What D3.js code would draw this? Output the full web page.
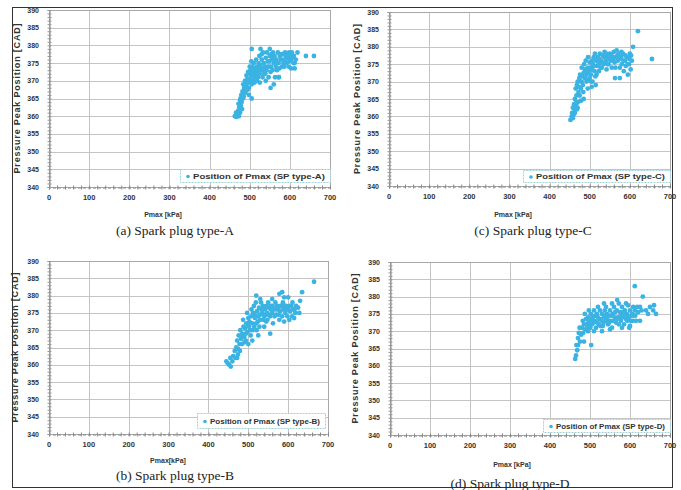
<!DOCTYPE html>
<html>
<head>
<meta charset="utf-8">
<script src="https://cdn.jsdelivr.net/npm/d3@7"></script>
<style>
  body { margin: 0; background: #fff; }
  svg { display: block; }
</style>
</head>
<body>
<svg id="chart"></svg>
<script>
// Pmax [kPa], peak position [CAD]
const dataA = [[463,360],[467,359.8],[470,360.3],[473,360],[466,361],[471,361.5],[476,361],[474,362.5],[478,363],[472,363.5],[480,364],[476,364.5],[483,365],[479,366],[485,365.5],[488,366.5],[482,367],[486,368],[490,367],
  [492,368.5],[495,367.5],[490,369],[497,369.5],[494,370.5],[500,370],[498,368],[503,371],[500,372],[505,369],[507,371.5],[502,373],[510,372],[508,370],[512,373.5],[506,374],[515,372.5],[513,371],[518,374],[510,375],[516,376],[520,373],[505,365],[498,366],
  [522,375],[525,372],[527,374.5],[524,377],[530,376],[528,373],[532,371],[535,375],[533,378],[538,374],[540,376.5],[536,372],[542,373],[545,375.5],[543,378],[548,374],[550,377],[547,371],[552,372.5],[555,376],[553,374],[558,378],[557,373],[560,375],[562,377],[565,374],[563,371],[567,376],[570,378],[568,373],[572,375],[575,377],[573,371],[578,376],[580,374],[582,377.5],[585,376],[588,378],[586,374],[590,377],[592,375],[595,376.5],[598,378],[597,374],[600,377],[603,376],[605,378],[608,376.5],[610,377],[612,375],[615,376],
  [603,373.5],[612,373.5],[619,378],[640,377],[660,377],[505,379],[527,379],[550,379],[530,377.5],[571,371],[552,368],[560,369],[540,370],[525,369.5],[518,370],
  [484,369],[488,370],[492,371.5],[496,372.5],[500,374],[504,375.5],[508,372.5],[512,369.5],[517,371.5],[521,371],[526,374],[531,373.5],[535,373],[539,372],[544,374],[549,375.5],[554,377.5],[559,376.5],[564,375.5],[569,375],[574,373.5],[579,377.5],[584,375],[589,375.5],[594,377],[599,375.5],[604,377],[609,375],[477,365],[481,362]];

const dataB = [[445,361],[448,360.5],[452,360],[456,359.5],[460,361],[455,362],[462,362.5],[468,362],[472,362],[466,364],[470,365],[475,364.5],[472,367],[478,366],[476,368.5],[482,367.5],[480,370],[485,369],[484,366],[488,371],[490,368],[492,370.5],[487,373],[495,372],[494,367],[498,369.5],[500,373.5],[502,371],[497,375],[505,370],[507,374],[510,372],[508,376],[512,375],[515,371],[517,373.5],[514,377],[520,372],[522,375.5],[519,378],[525,374],[527,376.5],[530,373],[532,378],[528,371],[535,375],[537,377],[540,374],[542,376],[545,372.5],[547,375],[550,378],[548,373],[552,376.5],[555,374],[557,377],[560,375],[562,372],[565,376],[568,378],[570,374.5],[572,377],[575,376],[578,373],[580,375.5],[583,377],[585,374],[588,376],[590,372.5],[593,375],[595,377],[598,374],[600,376],[603,373],[605,375.5],[608,377],[610,374],[612,376],[615,373.5],[618,375],[620,377],[625,376.5],[630,378.5],[635,381],[665,384],[578,380.5],[585,381],[590,379.5],[555,369],[540,371],[525,368.5],[510,367],[500,366],[530,379],[520,380],[560,379],[600,379.5],[628,375],
  [486,368],[490,366.5],[494,369],[499,371.5],[503,372.5],[506,368.5],[511,370],[516,374.5],[521,370],[524,372.5],[529,374.5],[533,376],[538,373],[543,374.5],[546,377],[551,374.5],[556,376],[561,377],[566,374],[571,376],[576,374.5],[581,377],[587,378],[592,377],[597,376],[604,377],[611,378],[616,376],[479,364],[474,363]];

const dataC = [[452,359],[455,360],[458,359.5],[456,361],[460,360.5],[462,362],[458,362.5],[465,363],[461,363.5],[468,362],[463,365],[467,366],[470,364],[465,368],[472,367],[468,369],[475,366],[470,370],[478,368],[474,371],[480,370],[476,372],[483,369],[485,372.5],[480,374],[488,371],[490,373],[486,375],[492,370],[495,374],[490,376],[498,372.5],[500,375.5],[496,377],[502,374],[505,376],[503,372],[508,375],[510,377],[507,370],[512,373],[515,376],[513,378],[518,374.5],[520,377],[517,372],[522,375],[525,378],[523,373],[528,376],[530,374],[532,377.5],[535,375],[537,378.5],[540,376],[542,373.5],[545,377],[547,375],[550,378],[552,376],[555,374],[557,377],[560,378.5],[562,375.5],[565,377],[567,379],[570,376],[572,378],[575,374],[578,377],[580,375],[583,378],[585,373],[588,376],[590,374.5],[593,377],[595,372],[598,375],[600,378],[602,373.5],[605,376],[608,380],[603,377.5],[563,371],[575,371],[620,384.5],[655,376.5],[495,368],[505,368.5],[515,369],[485,365],[500,371],[478,364.5],[470,362.5],
  [473,368.5],[477,370],[481,371.5],[484,367],[488,373.5],[492,372],[496,370.5],[499,373],[503,370],[506,373.5],[511,374.5],[514,371.5],[519,376],[524,376.5],[527,374],[531,375.5],[536,377],[541,378],[544,375],[549,376.5],[554,377.5],[559,376],[564,374],[569,377.5],[574,376.5],[579,378.5],[584,376],[589,377.5],[594,375],[599,376.5],[463,361],[467,364]];

const dataD = [[463,362],[465,363],[468,364.5],[466,366],[470,368],[472,369.5],[475,367],[478,369],[474,371],[480,371],[483,369.5],[485,372],[488,370.5],[490,373.5],[487,375],[492,372],[495,374],[498,371.5],[500,373],[497,376],[502,375],[505,372],[507,374],[510,376],[512,373],[515,371],[517,375],[520,374],[522,372],[525,376],[527,373.5],[530,375],[532,371.5],[535,374],[537,376],[540,373],[542,375],[545,372],[547,374.5],[550,376],[552,373],[555,371],[557,375],[560,377],[562,374],[565,372.5],[567,376],[570,374],[572,372],[575,375.5],[577,373],[580,377],[582,374],[585,372],[587,376],[590,373.5],[592,375],[595,377.5],[597,374],[600,376],[602,373],[605,375],[608,377],[610,374.5],[612,376],[615,373],[620,375.5],[625,377],[632,380],[612,383],[650,377],[658,376],[665,375],[660,377.5],[568,379],[520,377],[535,378],[503,366],[598,371],[510,370],[530,370],[550,370.5],[580,371],[495,370],[485,367],[482,373],[540,377],[555,378],[572,378],[590,378],[600,371.5],[640,376],[625,373],
  [493,371],[496,372.5],[501,371],[504,373.5],[509,372.5],[513,374.5],[518,372.5],[523,373.5],[526,371.5],[529,373],[534,372.5],[538,374.5],[543,373.5],[548,372.5],[553,374.5],[558,373],[563,375.5],[568,373.5],[573,374],[578,374.5],[583,375.5],[588,374.5],[593,373],[603,374.5],[607,373],[613,374.5],[618,377],[629,376],[645,375],[470,366]];

const xTicks = [0, 100, 200, 300, 400, 500, 600, 700];
const yTicks = [340, 345, 350, 355, 360, 365, 370, 375, 380, 385, 390];
const captions = ["(a) Spark plug type-A", "(b) Spark plug type-B", "(c) Spark plug type-C", "(d) Spark plug type-D"];
const legendNames = ["Position of Pmax (SP type-A)", "Position of Pmax (SP type-B)", "Position of Pmax (SP type-C)", "Position of Pmax (SP type-D)"];
const xLabels = ["Pmax [kPa]", "Pmax[kPa]", "Pmax [kPa]", "Pmax [kPa]"];
const yLabel = "Pressure Peak Position [CAD]";

const W = 681, H = 490;
const dot = "#3ab3e3";

const svg = d3.select("#chart").attr("width", W).attr("height", H);

// outer frame of the figure
svg.append("rect").attr("x", 12.5).attr("y", 7.5).attr("width", 660).attr("height", 480)
  .attr("fill", "none").attr("stroke", "#333");

// layout for each panel
const panels = [
  { data: dataA, i: 0, l: 49, r: 330, t: 10, b: 187, capX: 175, capY: 235, xlX: 163, xlY: 217, ylX: 20, leg: [180, 169, 150, 13] },
  { data: dataB, i: 1, l: 49, r: 328, t: 261, b: 434, capX: 175, capY: 480, xlX: 168, xlY: 463, ylX: 18, leg: [197, 413, 128, 15] },
  { data: dataC, i: 2, l: 389, r: 670, t: 12, b: 186, capX: 533, capY: 235, xlX: 513, xlY: 217, ylX: 360, leg: [523, 170, 147, 12] },
  { data: dataD, i: 3, l: 390, r: 670, t: 262, b: 435, capX: 510, capY: 488, xlX: 512, xlY: 467, ylX: 358, leg: [543, 419, 127, 13] }
];

panels.forEach(p => {
  const g = svg.append("g");
  const x = d3.scaleLinear().domain([0, 700]).range([p.l, p.r]);
  const y = d3.scaleLinear().domain([340, 390]).range([p.b, p.t]);

  // grid
  g.append("g").selectAll("line").data(xTicks.slice(1)).join("line")
    .attr("x1", d => Math.round(x(d)) + 0.5).attr("x2", d => Math.round(x(d)) + 0.5)
    .attr("y1", p.t).attr("y2", p.b).attr("stroke", "#c4c4c4");
  g.append("g").selectAll("line").data(yTicks.slice(1)).join("line")
    .attr("y1", d => Math.round(y(d)) + 0.5).attr("y2", d => Math.round(y(d)) + 0.5)
    .attr("x1", p.l).attr("x2", p.r).attr("stroke", "#c4c4c4");

  // plot border
  g.append("rect").attr("x", p.l + 0.5).attr("y", p.t + 0.5)
    .attr("width", p.r - p.l).attr("height", p.b - p.t)
    .attr("fill", "none").attr("stroke", "#a8a8a8");

  // bottom axis with minor ticks
  const xAxis = g.append("g").attr("transform", `translate(0,${Math.round(p.b) + 0.5})`)
    .call(d3.axisBottom(x).tickValues(d3.range(0, 701, 20)).tickSize(2).tickFormat(""));
  xAxis.select(".domain").attr("stroke", "#888").attr("stroke-dasharray", "3,2");
  xAxis.selectAll(".tick line").attr("stroke", "#888").attr("y1", -2);
  g.append("g").selectAll("text").data(xTicks).join("text")
    .attr("x", d => x(d)).attr("y", p.b + 13)
    .attr("text-anchor", "middle")
    .attr("font-family", "Liberation Sans, Arial, sans-serif").attr("font-weight", "bold")
    .attr("font-size", 7.5).attr("fill", "#333")
    .text(d => d);

  // left axis with minor ticks
  const yAxis = g.append("g").attr("transform", `translate(${Math.round(p.l) + 0.5},0)`)
    .call(d3.axisLeft(y).tickValues(d3.range(340, 391, 1)).tickSize(2).tickFormat(""));
  yAxis.select(".domain").attr("stroke", "#888");
  yAxis.selectAll(".tick line").attr("stroke", "#999").attr("x1", 2);
  g.append("g").selectAll("text").data(yTicks).join("text")
    .attr("x", p.l - 10).attr("y", d => y(d) + 2.5)
    .attr("text-anchor", "end")
    .attr("font-family", "Liberation Sans, Arial, sans-serif").attr("font-weight", "bold")
    .attr("font-size", 7).attr("fill", "#333")
    .text(d => d);

  // points
  g.append("g").selectAll("circle").data(p.data).join("circle")
    .attr("cx", d => x(d[0])).attr("cy", d => y(d[1]))
    .attr("r", 2.4).attr("fill", dot);

  // legend
  const [lx, ly, lw, lh] = p.leg;
  g.append("rect").attr("x", lx + 0.5).attr("y", ly + 0.5).attr("width", lw).attr("height", lh)
    .attr("fill", "#fff").attr("stroke", "#9fd2d8").attr("stroke-dasharray", "2,1");
  g.append("circle").attr("cx", lx + 8).attr("cy", ly + lh / 2 + 1).attr("r", 1.8).attr("fill", dot);
  g.append("text").attr("x", lx + 13).attr("y", ly + lh / 2 + 3.2)
    .attr("font-family", "Liberation Sans, Arial, sans-serif").attr("font-weight", "bold")
    .attr("font-size", 7).attr("fill", "#333")
    .attr("textLength", lw - 18).attr("lengthAdjust", "spacingAndGlyphs")
    .text(legendNames[p.i]);

  // axis titles
  g.append("text").attr("x", p.xlX).attr("y", p.xlY).attr("text-anchor", "middle")
    .attr("font-family", "Liberation Sans, Arial, sans-serif").attr("font-weight", "bold")
    .attr("font-size", 7).attr("fill", "#333")
    .text(xLabels[p.i]);
  g.append("text")
    .attr("transform", `translate(${p.ylX},${(p.t + p.b) / 2}) rotate(-90)`)
    .attr("text-anchor", "middle")
    .attr("font-family", "Liberation Sans, Arial, sans-serif").attr("font-weight", "bold")
    .attr("font-size", 9).attr("fill", "#333")
    .attr("textLength", 150).attr("lengthAdjust", "spacing")
    .text(yLabel);

  // caption
  g.append("text").attr("x", p.capX).attr("y", p.capY).attr("text-anchor", "middle")
    .attr("font-family", "Liberation Serif, Times New Roman, serif")
    .attr("font-size", 13.5).attr("fill", "#222")
    .text(captions[p.i]);
});
</script>
</body>
</html>
